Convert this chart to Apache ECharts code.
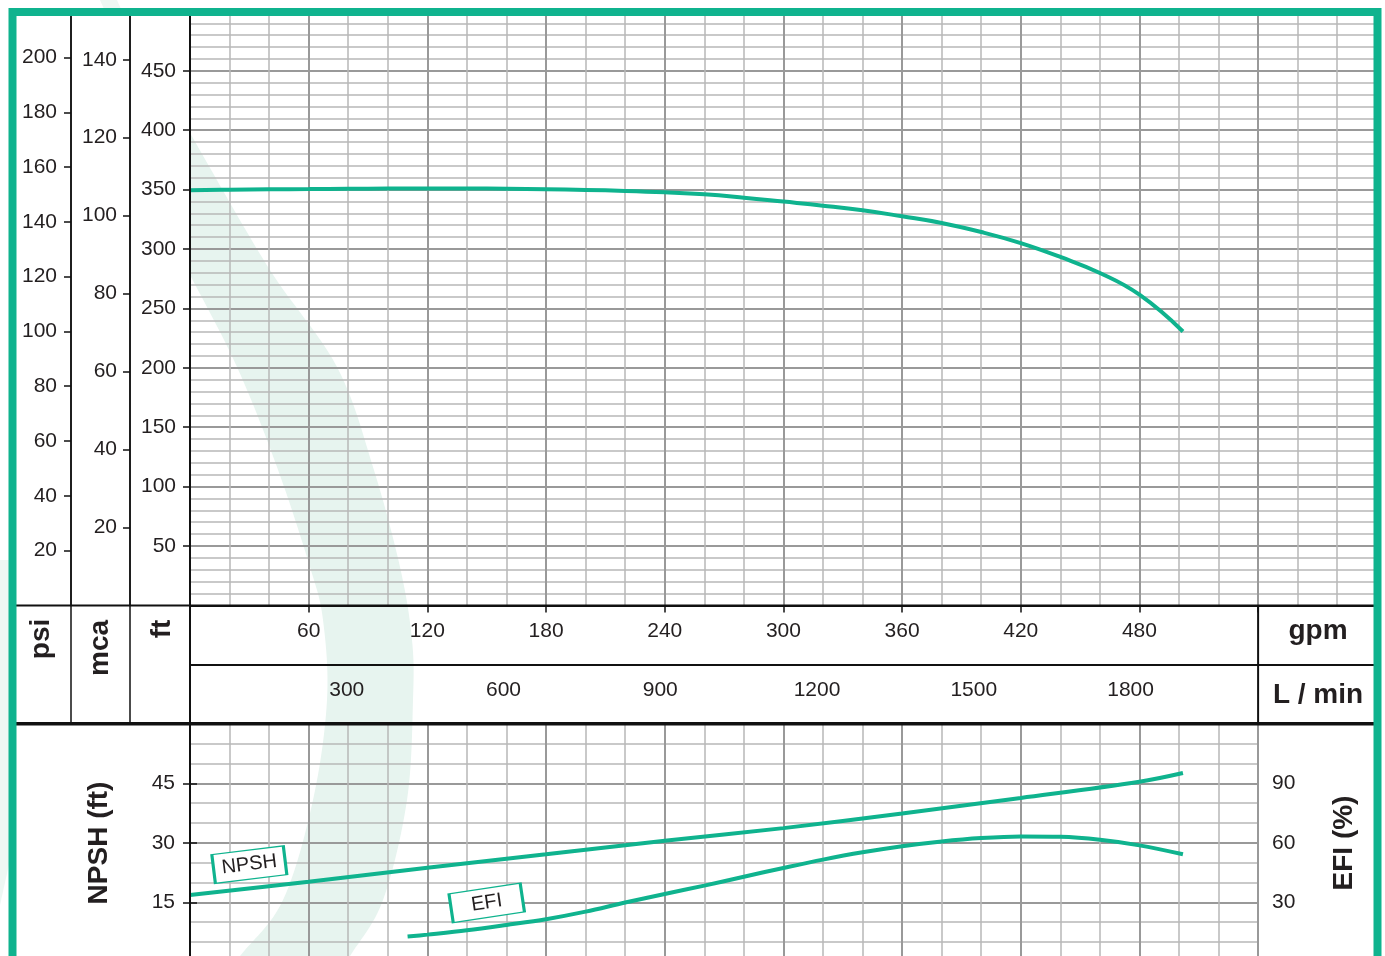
<!DOCTYPE html>
<html>
<head>
<meta charset="utf-8">
<script src="https://cdn.jsdelivr.net/npm/echarts@6/dist/echarts.min.js"></script>
<style>
html,body{margin:0;padding:0;background:#fff;}
#c{width:1385px;height:956px;}
</style>
</head>
<body>
<div id="c"></div>
<script>
// ---- data ----
const headGpm = [0,20,40,60,80,100,120,140,160,180,200,220,240,260,280,300,320,340,360,380,400,420,440,460,480,502];
const headFt  = [349.5,349.9,350.2,350.4,350.7,350.9,351.0,350.9,350.7,350.3,349.7,348.9,347.7,346.0,343.2,339.9,336.5,332.6,327.5,321.9,314.3,305.0,293.3,279.8,261.5,230.6];
const npshGpm = [0,60,120,180,240,300,360,420,480,502];
const npshFt  = [16.85,20.2,23.7,27.1,30.5,33.7,37.4,41.3,45.4,47.6];
const efiGpm  = [110,120,140,160,180,200,220,240,260,280,300,320,340,360,380,400,420,440,460,480,502];
const efiPct  = [12.7,13.7,15.9,18.6,21.5,25.3,29.9,34.2,38.4,42.9,47.3,51.5,55.2,58.3,60.7,62.4,63.2,63.0,61.5,58.7,54.2];
const npshLabelAt = [30, 24.5];   // gpm, ft
const efiLabelAt  = [150, 29.7];  // gpm, %
const unitTitles = { psi:'psi', mca:'mca', ft:'ft', gpm:'gpm', lmin:'L / min', npsh:'NPSH (ft)', efi:'EFI (%)' };

// unit conversions for the secondary axes
const FT_MAX = 500, GPM_MAX_TOP = 600, GPM_MAX_BOT = 540;
const PSI_MAX = FT_MAX / 2.306, MCA_MAX = FT_MAX * 0.3048, LMIN_MAX = GPM_MAX_BOT * 3.78541;

const GREEN = '#0fb38e';
const TXT = '#231f20';
const MAJ = '#999999', MIN = '#b8b8b8';
const FONT = 'Liberation Sans, Arial, Helvetica, sans-serif';

// layout
const L = 190, PXG = 1.978;
const top0 = 605.4 - FT_MAX * 1.188;
const g0 = { left: L, top: top0, width: GPM_MAX_TOP * PXG, height: FT_MAX * 1.188 };
const g1 = { left: L, top: 723.8, width: GPM_MAX_BOT * PXG, height: 238 };

const chart = echarts.init(document.getElementById('c'), null, { renderer: 'canvas' });

const lab = (m, extra) => Object.assign({ color: TXT, fontSize: 21, fontFamily: FONT, margin: m, showMinLabel: false, showMaxLabel: false }, extra || {});
const tick = (extra) => Object.assign({ show: true, length: 7, lineStyle: { color: '#111', width: 1.5 } }, extra || {});

function line(x1, y1, x2, y2, w) {
  return { type: 'line', z: 50, shape: { x1, y1, x2, y2 }, style: { stroke: '#111', lineWidth: w } };
}
function title(text, x, y, rot) {
  return { type: 'text', z: 60, x, y, rotation: rot ? Math.PI / 2 : 0,
    style: { text, fill: TXT, font: 'bold 28px ' + FONT, textAlign: 'center', textVerticalAlign: 'middle' } };
}
// Catmull-Rom sampling for the decorative band outline
function spline(pts, n) {
  const out = [];
  for (let i = 0; i < pts.length - 1; i++) {
    const p0 = pts[Math.max(0, i - 1)], p1 = pts[i], p2 = pts[i + 1], p3 = pts[Math.min(pts.length - 1, i + 2)];
    for (let k = 0; k < n; k++) {
      const t = k / n, t2 = t * t, t3 = t2 * t;
      const f = (a, b, c, d) => 0.5 * ((2 * b) + (-a + c) * t + (2 * a - 5 * b + 4 * c - d) * t2 + (-a + 3 * b - 3 * c + d) * t3);
      out.push([f(p0[0], p1[0], p2[0], p3[0]), f(p0[1], p1[1], p2[1], p3[1])]);
    }
  }
  out.push(pts[pts.length - 1]);
  return out;
}
const bandOuter = [[150,64],[190,133],[268,267],[337,367],[373,467],[400,567],[412,640],[413,700],[407,800],[383,900],[350,956],[322,1000]];
const bandInner = [[150,200],[190,275],[237,367],[277,467],[310,567],[323,620],[327,700],[313,800],[283,900],[240,956],[205,1000]];
const bandPts = spline(bandOuter, 12).concat(spline(bandInner, 12).reverse());

const option = {
  backgroundColor: '#fff',
  animation: false,
  grid: [
    Object.assign({ containLabel: false, outerBoundsMode: 'none' }, g0),
    Object.assign({ containLabel: false, outerBoundsMode: 'none' }, g1)
  ],
  xAxis: [
    { type: 'value', gridIndex: 0, position: 'bottom', min: 0, max: GPM_MAX_TOP, interval: 60,
      axisLine: { show: true, lineStyle: { color: '#111', width: 2 } },
      axisTick: tick(),
      axisLabel: lab(15, { formatter: v => (v > 500 ? '' : String(v)) }),
      splitLine: { show: true, lineStyle: { color: MAJ, width: 2 } },
      minorTick: { show: false, splitNumber: 3 },
      minorSplitLine: { show: true, lineStyle: { color: MIN, width: 1.5 } } },
    { type: 'value', gridIndex: 1, position: 'bottom', min: 0, max: GPM_MAX_BOT, interval: 60,
      axisLine: { show: false }, axisTick: { show: false }, axisLabel: { show: false },
      splitLine: { show: true, lineStyle: { color: MAJ, width: 2 } },
      minorTick: { show: false, splitNumber: 3 },
      minorSplitLine: { show: true, lineStyle: { color: MIN, width: 1.5 } } },
    { type: 'value', gridIndex: 1, position: 'top', offset: 58.8, min: 0, max: LMIN_MAX, interval: 300,
      axisLine: { show: true, lineStyle: { color: '#111', width: 2 } },
      axisTick: tick({ inside: true }),
      axisLabel: lab(15, { inside: true, formatter: v => String(v) }),
      splitLine: { show: false } }
  ],
  yAxis: [
    { type: 'value', gridIndex: 0, position: 'left', min: 0, max: FT_MAX, interval: 50,
      axisLine: { show: true, lineStyle: { color: '#111', width: 2 } },
      axisTick: tick(), axisLabel: lab(14, { padding: [5, 0, 0, 0] }),
      splitLine: { show: true, lineStyle: { color: MAJ, width: 2 } },
      minorTick: { show: false, splitNumber: 5 },
      minorSplitLine: { show: true, lineStyle: { color: MIN, width: 1.5 } } },
    { type: 'value', gridIndex: 0, position: 'left', offset: 60, min: 0, max: MCA_MAX, interval: 20,
      axisLine: { show: true, lineStyle: { color: '#111', width: 1.5 } },
      axisTick: tick(), axisLabel: lab(13, { padding: [5, 0, 0, 0] }), splitLine: { show: false } },
    { type: 'value', gridIndex: 0, position: 'left', offset: 119, min: 0, max: PSI_MAX, interval: 20,
      axisLine: { show: true, lineStyle: { color: '#111', width: 1.5 } },
      axisTick: tick(), axisLabel: lab(14, { padding: [5, 0, 0, 0] }), splitLine: { show: false } },
    { type: 'value', gridIndex: 1, position: 'left', min: 0, max: 60, interval: 15,
      axisLine: { show: true, lineStyle: { color: '#111', width: 2 } },
      axisTick: tick(), axisLabel: lab(15, { padding: [5, 0, 0, 0] }),
      splitLine: { show: true, lineStyle: { color: MAJ, width: 2 } },
      minorTick: { show: false, splitNumber: 3 },
      minorSplitLine: { show: true, lineStyle: { color: MIN, width: 1.5 } } },
    { type: 'value', gridIndex: 1, position: 'right', min: 0, max: 120, interval: 30,
      axisLine: { show: true, lineStyle: { color: '#111', width: 2 } },
      axisTick: tick(), axisLabel: lab(14, { padding: [5, 0, 0, 0] }), splitLine: { show: false } }
  ],
  series: [
    { name: 'H', type: 'line', xAxisIndex: 0, yAxisIndex: 0, smooth: 0.45, symbol: 'none',
      lineStyle: { color: GREEN, width: 4 }, z: 10,
      data: headGpm.map((g, i) => [g, headFt[i]]) },
    { name: 'NPSH', type: 'line', xAxisIndex: 1, yAxisIndex: 3, smooth: 0.35, symbol: 'none',
      lineStyle: { color: GREEN, width: 4 }, z: 10,
      data: npshGpm.map((g, i) => [g, npshFt[i]]),
      markPoint: { silent: true, animation: false, data: [{
        coord: npshLabelAt, symbol: 'rect', symbolSize: [72, 29], symbolRotate: 7,
        itemStyle: { color: '#fff', borderColor: GREEN, borderWidth: 2 },
        label: { show: true, position: 'inside', formatter: 'NPSH', rotate: 7, color: TXT, fontSize: 20, fontFamily: FONT } }] } },
    { name: 'EFI', type: 'line', xAxisIndex: 1, yAxisIndex: 4, smooth: 0.35, symbol: 'none',
      lineStyle: { color: GREEN, width: 4 }, z: 10,
      data: efiGpm.map((g, i) => [g, efiPct[i]]),
      markPoint: { silent: true, animation: false, data: [{
        coord: efiLabelAt, symbol: 'rect', symbolSize: [72, 29], symbolRotate: 8.5,
        itemStyle: { color: '#fff', borderColor: GREEN, borderWidth: 2 },
        label: { show: true, position: 'inside', formatter: 'EFI', rotate: 8.5, color: TXT, fontSize: 20, fontFamily: FONT } }] } }
  ],
  graphic: [
    // decorative watermark band
    { type: 'polygon', z: -10, silent: true, shape: { points: bandPts }, style: { fill: '#e7f4ef' } },
    { type: 'polygon', z: -10, silent: true, shape: { points: [[0,560],[10,560],[10,860],[0,905]] }, style: { fill: '#eef7f3' } },
    { type: 'polygon', z: -10, silent: true, shape: { points: [[100,0],[117,0],[121,9],[104,9]] }, style: { fill: '#eef7f3' } },
    // white label columns
    { type: 'rect', z: -9, silent: true, shape: { x: 16, y: 16, width: 173, height: 950 }, style: { fill: '#fff' } },
    { type: 'rect', z: -9, silent: true, shape: { x: 1259, y: 606, width: 115, height: 117 }, style: { fill: '#fff' } },
    // table lines
    line(71, 16, 71, 724, 1.5),
    line(130, 16, 130, 724, 1.5),
    line(190, 16, 190, 960, 2),
    line(16, 605.4, 1374, 605.4, 2),
    line(190, 665, 1374, 665, 2),
    line(16, 723.8, 1374, 723.8, 3.5),
    line(1258.1, 605, 1258.1, 724, 2),
    // titles
    title(unitTitles.psi, 41, 639, true),
    title(unitTitles.mca, 100, 648, true),
    title(unitTitles.ft, 162, 629, true),
    title(unitTitles.npsh, 99, 843, true),
    title(unitTitles.efi, 1344, 843, true),
    title(unitTitles.gpm, 1318, 631, false),
    title(unitTitles.lmin, 1318, 695, false),
    // green frame
    { type: 'rect', z: 100, silent: true, shape: { x: 12.5, y: 12, width: 1365, height: 1000 },
      style: { fill: 'none', stroke: GREEN, lineWidth: 8 } }
  ]
};
chart.setOption(option);
</script>
</body>
</html>
